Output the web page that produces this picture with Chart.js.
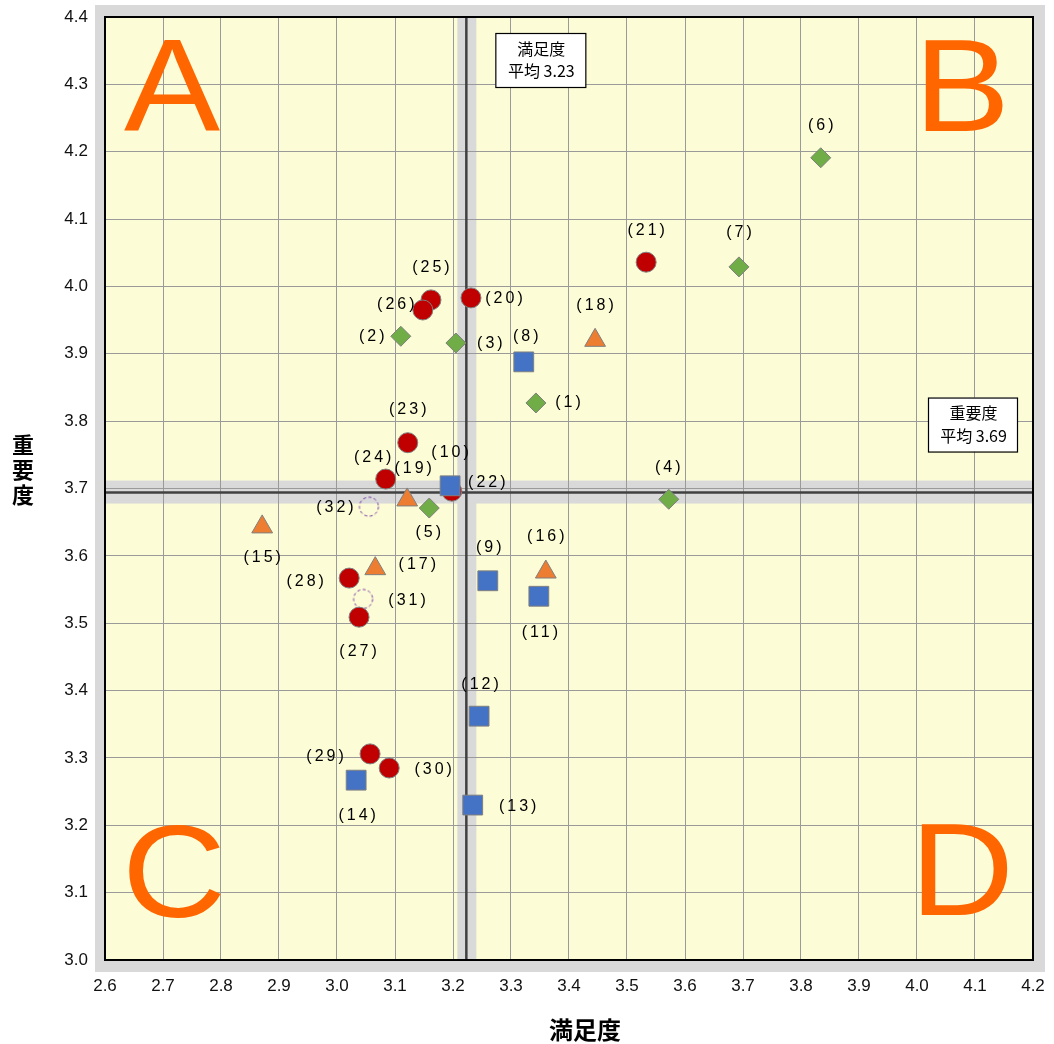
<!DOCTYPE html>
<html><head><meta charset="utf-8">
<script src="https://cdn.jsdelivr.net/npm/chart.js@4.4.1/dist/chart.umd.min.js"></script>
<style>html,body{margin:0;padding:0;background:#fff}#wrap{width:1054px;height:1044px;position:relative}</style>
</head><body><div id="wrap"><canvas id="c" width="1054" height="1044"></canvas></div>
<script>
// ---- data ----
const diamondIds = [1, 2, 3, 4, 5, 6, 7];
const diamondSat = [3.343, 3.110, 3.205, 3.572, 3.159, 3.834, 3.693];
const diamondImp = [3.827, 3.926, 3.916, 3.684, 3.671, 4.191, 4.029];

const squareIds = [8, 9, 10, 11, 12, 13, 14];
const squareSat = [3.322, 3.260, 3.195, 3.348, 3.245, 3.234, 3.033];
const squareImp = [3.888, 3.563, 3.704, 3.540, 3.362, 3.230, 3.267];

const triangleIds = [15, 16, 17, 18, 19];
const triangleSat = [2.871, 3.360, 3.066, 3.445, 3.121];
const triangleImp = [3.643, 3.576, 3.581, 3.920, 3.683];

const circleIds = [20, 21, 22, 23, 24, 25, 26, 27, 28, 29, 30];
const circleSat = [3.231, 3.533, 3.198, 3.122, 3.084, 3.162, 3.148, 3.038, 3.021, 3.057, 3.090];
const circleImp = [3.983, 4.036, 3.696, 3.768, 3.714, 3.980, 3.965, 3.509, 3.567, 3.306, 3.285];

const dashedIds = [31, 32];
const dashedSat = [3.045, 3.055];
const dashedImp = [3.536, 3.673];

const avgSat = 3.223, avgSatText = '3.23';
const avgImp = 3.694, avgImpText = '3.69';

const xTicks = [2.6, 2.7, 2.8, 2.9, 3.0, 3.1, 3.2, 3.3, 3.4, 3.5, 3.6, 3.7, 3.8, 3.9, 4.0, 4.1, 4.2];
const yTicks = [3.0, 3.1, 3.2, 3.3, 3.4, 3.5, 3.6, 3.7, 3.8, 3.9, 4.0, 4.1, 4.2, 4.3, 4.4];
const xTitle = '満足度';
const yTitle = '重要度';
const quadrantLetters = ['A', 'B', 'C', 'D'];

// label placement (offset of each label from its marker, px) - layout only
const labelOffset = {
  1:[32,0], 2:[-29,0], 3:[34,1], 4:[-1,-32], 5:[-1,25], 6:[0,-32], 7:[0,-34],
  8:[2,-25], 9:[1,-33], 10:[0,-33], 11:[1,36], 12:[1,-32], 13:[45,2], 14:[1,35],
  15:[0,31], 16:[0,-35], 17:[42,-4], 18:[0,-35], 19:[6,-31],
  20:[33,1], 21:[0,-32], 22:[35,-9], 23:[0,-33], 24:[-13,-21], 25:[0,-32], 26:[-27,-5],
  27:[-1,34], 28:[-44,4], 29:[-45,3], 30:[44,2], 31:[44,2], 32:[-34,1]
};

const pts = (xs, ys, ids) => xs.map((v, i) => ({x: v, y: ys[i], id: ids[i]}));

function dashedCircle(r) {
  const s = 2 * r + 4;
  const c = document.createElement('canvas');
  c.width = s; c.height = s;
  const g = c.getContext('2d');
  g.setLineDash([3, 2.5]);
  g.strokeStyle = '#7030A0';
  g.lineWidth = 1;
  g.beginPath(); g.arc(s / 2, s / 2, r, 0, Math.PI * 2); g.stroke();
  return c;
}

const CJK = '"Noto Sans CJK JP", sans-serif';
const LAT = '"Liberation Sans", Arial, sans-serif';

const decor = {
  id: 'decor',
  beforeDraw(chart) {
    const {ctx, chartArea: a, scales: {x, y}} = chart;
    ctx.save();
    ctx.fillStyle = '#D9D9D9';
    ctx.fillRect(a.left - 10, a.top - 12, a.width + 22, a.height + 24);
    ctx.fillStyle = '#FCFCD6';
    ctx.fillRect(a.left, a.top, a.width, a.height);
    ctx.fillStyle = '#D9D9D9';
    const vx = x.getPixelForValue(avgSat);
    ctx.fillRect(vx - 9, a.top, 19, a.height);
    const hy = y.getPixelForValue(avgImp);
    ctx.fillRect(a.left, hy - 12, a.width, 23);
    ctx.restore();
  },
  beforeDatasetsDraw(chart) {
    const {ctx, chartArea: a, scales: {x, y}} = chart;
    ctx.save();
    ctx.strokeStyle = '#404040';
    ctx.lineWidth = 2.5;
    const vx = x.getPixelForValue(avgSat);
    const hy = y.getPixelForValue(avgImp);
    ctx.beginPath(); ctx.moveTo(vx, a.top); ctx.lineTo(vx, a.bottom); ctx.stroke();
    ctx.beginPath(); ctx.moveTo(a.left, hy); ctx.lineTo(a.right, hy); ctx.stroke();
    ctx.strokeStyle = '#000';
    ctx.lineWidth = 2;
    ctx.strokeRect(a.left, a.top, a.width, a.height);
    // quadrant letters
    ctx.fillStyle = '#FF6600';
    ctx.font = '131px ' + LAT;
    ctx.textAlign = 'center';
    ctx.textBaseline = 'alphabetic';
    const letter = (t, cx, by) => {
      ctx.save(); ctx.translate(cx, by); ctx.scale(1.1, 1); ctx.fillText(t, 0, 0); ctx.restore();
    };
    letter(quadrantLetters[0], a.left + 67, a.top + 114);
    letter(quadrantLetters[1], a.right - 71, a.top + 114);
    letter(quadrantLetters[2], a.left + 69, a.bottom - 43);
    letter(quadrantLetters[3], a.right - 71, a.bottom - 45);
    // average boxes
    const box = (l, t, w, h, line1, line2) => {
      ctx.fillStyle = '#fff';
      ctx.fillRect(l, t, w, h);
      ctx.strokeStyle = '#000';
      ctx.lineWidth = 1.2;
      ctx.strokeRect(l + 0.5, t + 0.5, w, h);
      ctx.fillStyle = '#000';
      ctx.textAlign = 'center';
      ctx.textBaseline = 'middle';
      ctx.font = '16px ' + CJK;
      ctx.fillText(line1, l + w / 2 + 1, t + h * 0.29);
      ctx.fillText(line2, l + w / 2 + 1, t + h * 0.71);
    };
    box(vx + 29, a.top + 16, 90, 54, xTitle, '平均 ' + avgSatText);
    box(a.right - 105, hy - 95, 89, 54, yTitle, '平均 ' + avgImpText);
    ctx.restore();
  },
  afterDatasetsDraw(chart) {
    const {ctx} = chart;
    ctx.save();
    ctx.fillStyle = '#000';
    ctx.font = '16px ' + LAT;
    ctx.textAlign = 'center';
    ctx.textBaseline = 'middle';
    if ('letterSpacing' in ctx) ctx.letterSpacing = '3px';
    chart.data.datasets.forEach((ds, di) => {
      const meta = chart.getDatasetMeta(di);
      meta.data.forEach((el, i) => {
        const id = ds.data[i].id;
        const off = labelOffset[id] || [0, -30];
        ctx.fillText('(' + id + ')', el.x + off[0] + 1.5, el.y + off[1]);
      });
    });
    if ('letterSpacing' in ctx) ctx.letterSpacing = '0px';
    ctx.fillStyle = '#000';
    ctx.font = 'bold 24px ' + CJK;
    ctx.fillText(xTitle, 585, 1030);
    ctx.font = 'bold 22px ' + CJK;
    [...yTitle].forEach((ch, k) => ctx.fillText(ch, 23, 445 + k * 25));
    ctx.restore();
  }
};

const common = {borderColor: '#7F7F7F', borderWidth: 1};
const noPad = s => { s.paddingTop = 0; s.paddingBottom = 0; s.paddingLeft = 0; s.paddingRight = 0; };

new Chart(document.getElementById('c'), {
  type: 'scatter',
  data: {
    datasets: [
      {label: 'diamond', data: pts(diamondSat, diamondImp, diamondIds), pointStyle: 'rectRot', radius: 10, backgroundColor: '#70AD47', ...common},
      {label: 'square', data: pts(squareSat, squareImp, squareIds), pointStyle: 'rect', radius: 14, backgroundColor: '#4472C4', ...common},
      {label: 'triangle', data: pts(triangleSat, triangleImp, triangleIds), pointStyle: 'triangle', radius: 12, backgroundColor: '#ED7D31', ...common},
      {label: 'circle', data: pts(circleSat, circleImp, circleIds), pointStyle: 'circle', radius: 10, backgroundColor: '#C00000', ...common},
      {label: 'dashed', data: pts(dashedSat, dashedImp, dashedIds), pointStyle: dashedCircle(9.5), radius: 10, backgroundColor: 'transparent', borderColor: '#7030A0'}
    ]
  },
  options: {
    responsive: false,
    animation: false,
    events: [],
    layout: {padding: {top: 17, right: 21, left: 0, bottom: 0}},
    plugins: {legend: {display: false}, tooltip: {enabled: false}},
    scales: {
      x: {
        type: 'linear', min: 2.6, max: 4.2,
        afterBuildTicks: s => { s.ticks = xTicks.map(v => ({value: v})); },
        afterFit: s => { s.height = 84; noPad(s); },
        grid: {color: '#9A9A9A', lineWidth: 1, drawTicks: false},
        border: {display: false},
        ticks: {color: '#111', font: {family: LAT, size: 17}, padding: 16, maxRotation: 0, autoSkip: false,
          callback: v => Number(v).toFixed(1)}
      },
      y: {
        type: 'linear', min: 3.0, max: 4.4,
        afterBuildTicks: s => { s.ticks = yTicks.map(v => ({value: v})); },
        afterFit: s => { s.width = 105; noPad(s); },
        grid: {color: '#9A9A9A', lineWidth: 1, drawTicks: false},
        border: {display: false},
        ticks: {color: '#111', font: {family: LAT, size: 17}, padding: 17, autoSkip: false,
          callback: v => Number(v).toFixed(1)}
      }
    }
  },
  plugins: [decor]
});
</script></body></html>
